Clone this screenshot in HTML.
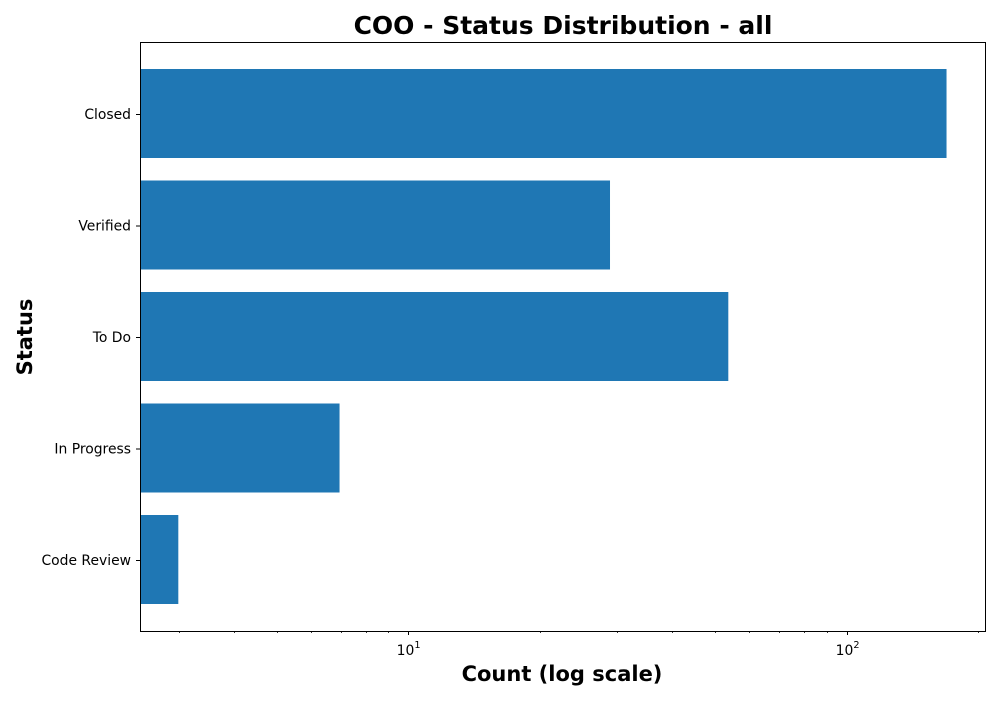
<!DOCTYPE html>
<html><head><meta charset="utf-8"><style>
html,body{margin:0;padding:0;background:#fff;}
svg text{font-family:"DejaVu Sans","Liberation Sans",sans-serif;}
</style></head><body>
<svg id="chart" width="1000" height="700" xmlns="http://www.w3.org/2000/svg">
<rect width="1000" height="700" fill="#fff"/>
<text x="563" y="34" text-anchor="middle" font-size="25" font-weight="bold">COO - Status Distribution - all</text>
<text x="562" y="681" text-anchor="middle" font-size="21" font-weight="bold">Count (log scale)</text>
<text transform="translate(32,337) rotate(-90)" text-anchor="middle" font-size="21" font-weight="bold">Status</text>
<g id="bars"></g>
<g id="ticks"></g>
<rect x="140.5" y="42.5" width="845" height="589" fill="none" stroke="#000" stroke-width="1"/>
</svg>
<script>
const categories = ["Code Review","In Progress","To Do","Verified","Closed"];
const counts = [3, 7, 54, 29, 170];
const majorTicks = [10, 100];
const majorLabels = ["1", "2"];
const minorTicks = [3,4,5,6,7,8,9,20,30,40,50,60,70,80,90,200];

const X0=140, X1=985, LMIN=Math.log10(2.44), LMAX=Math.log10(207);
function xs(v){return X0+(Math.log10(v)-LMIN)/(LMAX-LMIN)*(X1-X0);}
function ys(i){return 560-i*111.5;}
const NS="http://www.w3.org/2000/svg";
const bars=document.getElementById('bars'), ticks=document.getElementById('ticks');
function mk(tag,attrs,parent){const e=document.createElementNS(NS,tag);for(const k in attrs)e.setAttribute(k,attrs[k]);parent.appendChild(e);return e;}

categories.forEach((c,i)=>{
  const r=mk('rect',{x:X0,y:ys(i)-45,width:xs(counts[i])-X0-1,height:89,fill:'#1f77b4'},bars);
  
  
  const t=mk('line',{x1:X0-4,x2:X0,y1:ys(i)+0.5,y2:ys(i)+0.5,stroke:'#000'},ticks);
  
  
  const l=mk('text',{x:X0-9,y:ys(i)+5,'text-anchor':'end','font-size':'13.9'},ticks);
  l.textContent=c;
  
  
});
majorTicks.forEach((v,i)=>{
  const x=Math.round(xs(v))+0.5;
  const t=mk('line',{x1:x,x2:x,y1:631,y2:635,stroke:'#000'},ticks);
  
  
  const l=mk('text',{x:x-3,y:655,'text-anchor':'middle','font-size':'13.9'},ticks);
  l.textContent='10';
  
  
  const s=mk('text',{x:x+9,y:648,'text-anchor':'middle','font-size':'9.7'},ticks);
  s.textContent=majorLabels[i];
  
  
});
minorTicks.forEach(v=>{
  const x=Math.round(xs(v))+0.5;
  const t=mk('line',{x1:x,x2:x,y1:631,y2:633,stroke:'#000','stroke-width':0.8},ticks);
  
  
});
</script>
</body></html>
